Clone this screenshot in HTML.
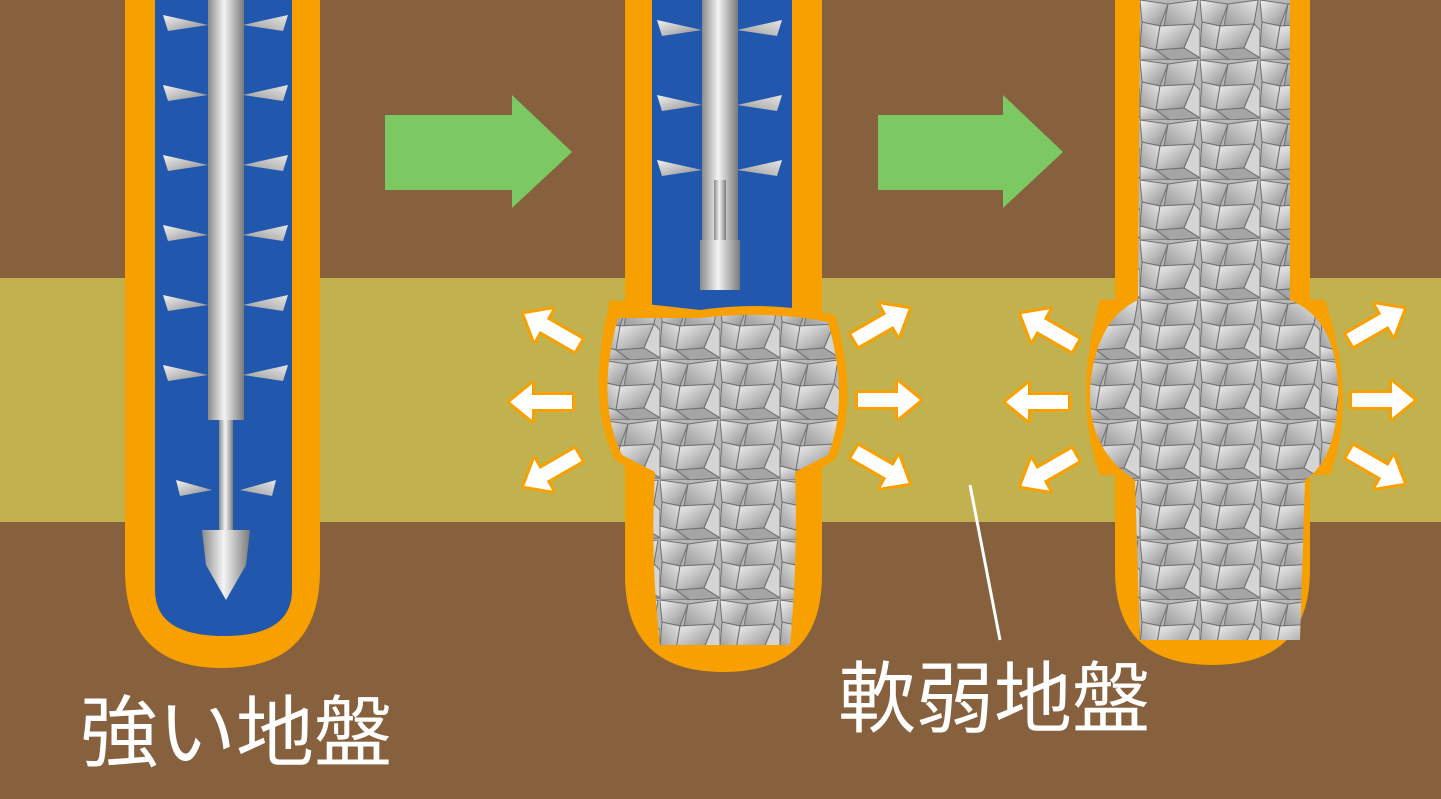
<!DOCTYPE html>
<html><head><meta charset="utf-8"><style>
html,body{margin:0;padding:0;background:#87613d;}
svg{display:block}
</style></head><body>
<svg width="1441" height="799" viewBox="0 0 1441 799" xmlns="http://www.w3.org/2000/svg">
<defs>
<linearGradient id="rod" x1="0" x2="1"><stop offset="0" stop-color="#8a8a8a"/><stop offset=".45" stop-color="#f4f4f4"/><stop offset="1" stop-color="#7a7a7a"/></linearGradient>
<linearGradient id="g1" x1="0" y1="0" x2="1" y2="1"><stop offset="0" stop-color="#f2f2f2"/><stop offset="1" stop-color="#8c8c8c"/></linearGradient>
<linearGradient id="g2" x1="1" y1="0" x2="0" y2="1"><stop offset="0" stop-color="#e6e6e6"/><stop offset="1" stop-color="#9a9a9a"/></linearGradient>
<pattern id="grav" width="60" height="60" patternUnits="userSpaceOnUse">
<rect width="60" height="60" fill="#b8b8b8"/>
<polygon points="0,0 28,4 20,26 2,22" fill="url(#g1)" stroke="#6f6f6f" stroke-width="1"/>
<polygon points="28,4 58,0 54,24 24,26" fill="url(#g2)" stroke="#6f6f6f" stroke-width="1"/>
<polygon points="2,22 20,26 16,50 0,46" fill="url(#g2)" stroke="#6f6f6f" stroke-width="1"/>
<polygon points="20,26 54,24 44,48 16,50" fill="url(#g1)" stroke="#6f6f6f" stroke-width="1"/>
<polygon points="44,48 54,24 60,30 60,58" fill="#d5d5d5" stroke="#6f6f6f" stroke-width="1"/>
<polygon points="0,46 16,50 30,60 0,60" fill="url(#g1)" stroke="#6f6f6f" stroke-width="1"/>
<polygon points="16,50 44,48 60,58 30,60" fill="#a5a5a5" stroke="#6f6f6f" stroke-width="1"/>
</pattern>
<g id="warr"><path d="M0,-7 L40,-7 L40,-18 L62,0 L40,18 L40,7 L0,7 Z" fill="#fff" stroke="#f7a000" stroke-width="6" stroke-linejoin="round" paint-order="stroke"/></g>
<g id="blade"><polygon points="0,0 -45,-10 -40,6" fill="url(#g1)"/><polygon points="35,0 80,-10 75,6" fill="url(#g2)"/></g>
</defs>
<rect width="1441" height="799" fill="#87613d"/>
<rect y="278" width="1441" height="244" fill="#c2b24f"/>

<path d="M125,0 H320 V570 Q320,668 222,668 Q125,668 125,570 Z" fill="#f7a000"/>
<path d="M155,0 H292 V590 Q292,636 224,636 Q155,636 155,590 Z" fill="#2158ae"/>
<rect x="208" y="0" width="36" height="420" fill="url(#rod)"/>
<rect x="219" y="420" width="14" height="110" fill="url(#rod)"/>
<g transform="translate(208,0)">
<use href="#blade" y="25"/><use href="#blade" y="95"/><use href="#blade" y="165"/><use href="#blade" y="235"/><use href="#blade" y="305"/><use href="#blade" y="375"/><use href="#blade" y="490" transform="scale(0.8,1) translate(5,0)"/>
</g>
<polygon points="202,530 250,530 246,565 226,600 206,565" fill="url(#rod)"/>

<path d="M625,0 H822 V575 Q822,672 723,672 Q625,672 625,575 Z" fill="#f7a000"/>
<path d="M652,0 H792 V320 H652 Z" fill="#2158ae"/>
<rect x="702" y="0" width="36" height="240" fill="url(#rod)"/>
<rect x="714" y="180" width="12" height="70" fill="url(#rod)"/>
<rect x="700" y="240" width="40" height="50" fill="url(#rod)"/>
<g transform="translate(702,0)"><use href="#blade" y="30"/><use href="#blade" y="105"/><use href="#blade" y="170"/></g>
<path d="M610,300 Q585,400 615,460 L650,480 Q640,560 650,648 L795,648 Q805,560 800,480 L835,460 Q860,400 835,315 Q770,300 700,310 Z" fill="#f7a000"/>
<path d="M618,318 Q595,400 622,455 L655,472 Q650,560 660,645 L790,645 Q798,560 795,472 L828,455 Q850,400 828,322 Q770,310 700,318 Z" fill="url(#grav)"/>
<use href="#warr" transform="translate(578,345) rotate(-150)"/>
<use href="#warr" transform="translate(572,402) rotate(180)"/>
<use href="#warr" transform="translate(578,455) rotate(150)"/>
<use href="#warr" transform="translate(855,340) rotate(-30)"/>
<use href="#warr" transform="translate(858,400)"/>
<use href="#warr" transform="translate(855,452) rotate(30)"/>

<path d="M1115,0 H1310 V570 Q1310,665 1212,665 Q1115,665 1115,570 Z" fill="#f7a000"/>
<path d="M1100,300 Q1072,400 1100,475 L1330,475 Q1358,400 1325,300 Z" fill="#f7a000"/>
<path d="M1140,0 H1290 V300 Q1340,320 1338,400 Q1335,460 1305,480 L1300,640 H1140 L1135,480 Q1088,450 1090,390 Q1095,320 1138,300 Z" fill="url(#grav)"/>
<use href="#warr" transform="translate(1075,345) rotate(-150)"/>
<use href="#warr" transform="translate(1068,402) rotate(180)"/>
<use href="#warr" transform="translate(1075,455) rotate(150)"/>
<use href="#warr" transform="translate(1350,340) rotate(-30)"/>
<use href="#warr" transform="translate(1352,400)"/>
<use href="#warr" transform="translate(1350,452) rotate(30)"/>

<polygon points="385,115 512,115 512,95 572,152 512,208 512,190 385,190" fill="#7cc862"/>
<polygon points="878,115 1003,115 1003,95 1063,152 1003,208 1003,190 878,190" fill="#7cc862"/>

<line x1="970" y1="485" x2="1000" y2="640" stroke="#fff" stroke-width="3"/>
<text x="838" y="726" font-family="'Liberation Sans','Noto Sans CJK JP',sans-serif" font-size="78" fill="#fff">軟弱地盤</text>
<text x="80" y="760" font-family="'Liberation Sans','Noto Sans CJK JP',sans-serif" font-size="78" fill="#fff">強い地盤</text>
</svg>
</body></html>
